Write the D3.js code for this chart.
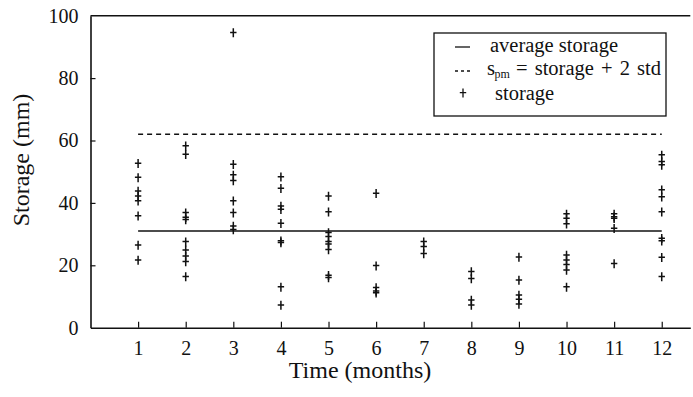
<!DOCTYPE html>
<html>
<head>
<meta charset="utf-8">
<script src="https://cdn.jsdelivr.net/npm/d3@7"></script>
<style>
  body { margin: 0; background: #fff; }
  svg text { font-family: "Liberation Serif", "Times New Roman", serif; fill: #111; }
</style>
</head>
<body>
<div id="chart"></div>
<script>
// values
const months = [1, 2, 3, 4, 5, 6, 7, 8, 9, 10, 11, 12];
const yTicks = [0, 20, 40, 60, 80, 100];
const storage = [
  [52.6, 48.1, 43.7, 42.1, 40.6, 35.8, 26.4, 21.6],
  [58.2, 55.5, 36.8, 35.3, 34.6, 27.5, 24.8, 22.9, 21.1, 16.3],
  [94.5, 52.3, 48.9, 47.1, 40.6, 36.8, 32.5, 31.4],
  [48.3, 44.6, 38.9, 37.9, 33.4, 27.8, 27.2, 13.0, 7.2],
  [42.1, 37.1, 30.4, 29.1, 27.5, 26.7, 25.0, 16.7, 16.0],
  [43.0, 19.8, 12.8, 11.7, 11.1],
  [27.5, 25.9, 23.7],
  [17.9, 15.7, 8.8, 7.2],
  [22.6, 15.2, 10.4, 9.0, 7.5],
  [36.4, 35.0, 33.2, 23.2, 21.6, 20.2, 18.4, 13.0],
  [36.4, 35.5, 35.0, 31.8, 20.5],
  [55.3, 53.2, 52.1, 44.1, 41.9, 37.1, 28.6, 27.8, 22.5, 16.3]
];
const avgStorage = 31;
const spm = 62;

const width = 693, height = 397;
const svg = d3.select('#chart').append('svg')
  .attr('width', width)
  .attr('height', height);

const xScale = d3.scaleLinear().domain([0, 12.6]).range([90.5, 690.3]);
const yScale = d3.scaleLinear().domain([0, 100]).range([327.7, 15.7]);

// x axis, inward ticks
const xAxis = svg.append('g')
  .attr('transform', `translate(0,${yScale(0)})`)
  .call(d3.axisBottom(xScale).tickValues(months).tickSize(-6).tickSizeOuter(0).tickPadding(13));

// y axis, inward ticks
const yAxis = svg.append('g')
  .attr('transform', `translate(${xScale(0)},0)`)
  .call(d3.axisLeft(yScale).tickValues(yTicks).tickSize(-5).tickSizeOuter(0).tickPadding(12));

[xAxis, yAxis].forEach(g => {
  g.select('.domain').attr('stroke', '#111').attr('stroke-width', 1.6);
  g.selectAll('.tick line').attr('stroke', '#111').attr('stroke-width', 1.2);
  g.selectAll('.tick text')
    .attr('font-family', '"Liberation Serif", serif')
    .attr('font-size', 20)
    .attr('fill', '#111');
});
yAxis.selectAll('.tick').filter(d => d === 0 || d === 100).select('line').remove();

// top frame line
svg.append('line')
  .attr('x1', xScale(0)).attr('x2', xScale(12.6))
  .attr('y1', yScale(100)).attr('y2', yScale(100))
  .attr('stroke', '#111').attr('stroke-width', 1.6);

// axis titles
svg.append('text')
  .attr('x', 360).attr('y', 378)
  .attr('text-anchor', 'middle')
  .attr('font-size', 24)
  .text('Time (months)');

svg.append('text')
  .attr('transform', 'translate(21,160) rotate(-90)')
  .attr('text-anchor', 'middle')
  .attr('dominant-baseline', 'central')
  .attr('font-size', 24)
  .text('Storage (mm)');

// average storage and s_pm lines
svg.append('line')
  .attr('x1', xScale(1)).attr('x2', xScale(12))
  .attr('y1', yScale(avgStorage)).attr('y2', yScale(avgStorage))
  .attr('stroke', '#111').attr('stroke-width', 1.3);

svg.append('line')
  .attr('x1', xScale(1)).attr('x2', xScale(12))
  .attr('y1', yScale(spm)).attr('y2', yScale(spm))
  .attr('stroke', '#111').attr('stroke-width', 1.3)
  .attr('stroke-dasharray', '5,4');

// storage markers
const plus = 'M0,-4.5V4.5M-3.2,-0.3H3.2';
const points = storage.flatMap((vals, i) => vals.map(v => ({ month: months[i], value: v })));

svg.append('g').selectAll('path')
  .data(points)
  .join('path')
  .attr('d', plus)
  .attr('transform', d => `translate(${xScale(d.month)},${yScale(d.value)})`)
  .attr('fill', 'none')
  .attr('stroke', '#111')
  .attr('stroke-width', 1.5);

// legend
const legend = svg.append('g');
const fs = 20.5;
legend.append('rect')
  .attr('x', 434).attr('y', 33)
  .attr('width', 232).attr('height', 83)
  .attr('fill', '#fff')
  .attr('stroke', '#111').attr('stroke-width', 1.3);

legend.append('line')
  .attr('x1', 455).attr('x2', 470).attr('y1', 47).attr('y2', 47)
  .attr('stroke', '#111').attr('stroke-width', 1.3);
legend.append('text')
  .attr('x', 490).attr('y', 52)
  .attr('font-size', fs)
  .text('average storage');

legend.append('line')
  .attr('x1', 455).attr('x2', 471).attr('y1', 71).attr('y2', 71)
  .attr('stroke', '#111').attr('stroke-width', 1.3)
  .attr('stroke-dasharray', '3,3');
legend.append('text')
  .attr('x', 487).attr('y', 75)
  .attr('font-size', fs)
  .text('s');
legend.append('text')
  .attr('x', 494.5).attr('y', 78)
  .attr('font-size', 12)
  .text('pm');
legend.append('text')
  .attr('x', 516).attr('y', 75)
  .attr('font-size', fs)
  .attr('word-spacing', 2)
  .text('= storage + 2 std');

legend.append('path')
  .attr('d', plus)
  .attr('transform', 'translate(463,93)')
  .attr('fill', 'none')
  .attr('stroke', '#111')
  .attr('stroke-width', 1.3);
legend.append('text')
  .attr('x', 495).attr('y', 99.5)
  .attr('font-size', fs)
  .text('storage');
</script>
</body>
</html>
